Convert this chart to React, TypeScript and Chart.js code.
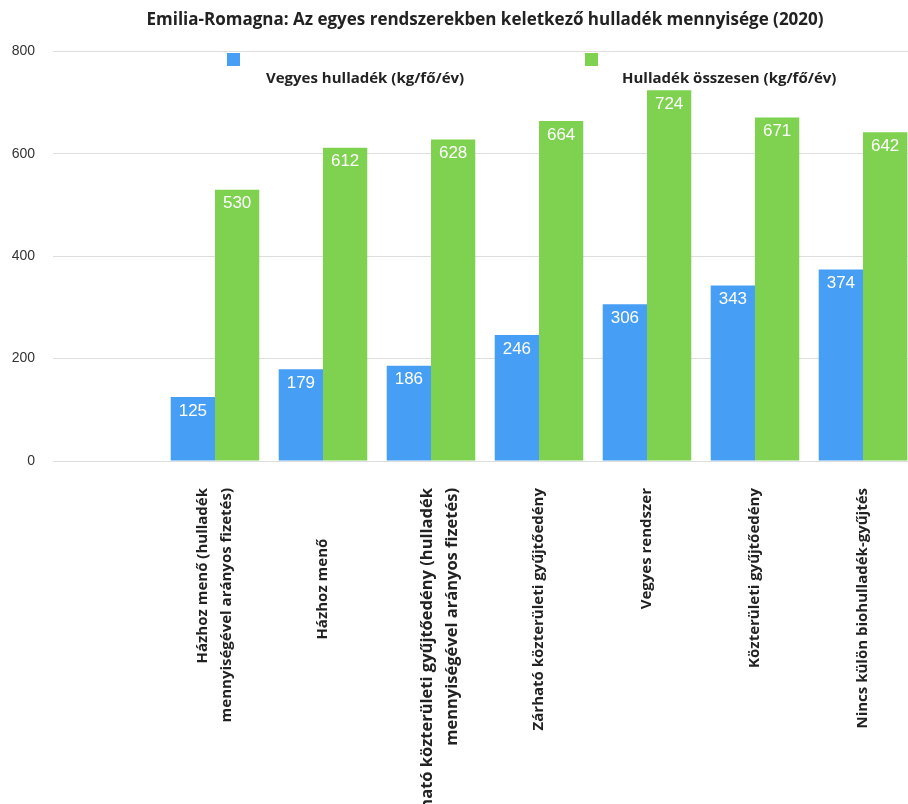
import React, { useEffect, useRef } from "react";
import { Chart, registerables } from "chart.js";

Chart.register(...registerables);

const chartTitle =
  "Emilia-Romagna: Az egyes rendszerekben keletkező hulladék mennyisége (2020)";

const categories: (string | string[])[] = [
  "",
  ["Házhoz menő (hulladék", "mennyiségével arányos fizetés)"],
  "Házhoz menő             ",
  ["Zárható közterületi gyűjtőedény (hulladék", "mennyiségével arányos fizetés)"],
  "Zárható közterületi gyűjtőedény",
  "Vegyes rendszer",
  "Közterületi gyűjtőedény",
  "Nincs külön biohulladék-gyűjtés",
];

const seriesLabels = ["Vegyes hulladék (kg/fő/év)", "Hulladék összesen (kg/fő/év)"];
const mixedWaste = [null, 125, 179, 186, 246, 306, 343, 374];
const totalWaste = [null, 530, 612, 628, 664, 724, 671, 642];
const yTickValues = [0, 200, 400, 600, 800];

const BLUE = "#479ef5";
const GREEN = "#7ed24f";

const valueLabelPlugin = {
  id: "valueLabels",
  afterDatasetsDraw(chart: any) {
    const ctx = chart.ctx;
    ctx.save();
    ctx.fillStyle = "#ffffff";
    ctx.font = "17px 'Liberation Sans', Arial, sans-serif";
    ctx.textAlign = "center";
    ctx.textBaseline = "middle";
    chart.data.datasets.forEach((ds: any, di: number) => {
      const meta = chart.getDatasetMeta(di);
      meta.data.forEach((bar: any, idx: number) => {
        const v = ds.data[idx];
        if (v == null) return;
        ctx.fillText(String(v), bar.x, bar.y + 14);
      });
    });
    ctx.restore();
  },
};

const legendPlugin = {
  id: "customLegend",
  afterDraw(chart: any, _args: any, opts: any) {
    const ctx = chart.ctx;
    const items = opts.items || [];
    ctx.save();
    chart.data.datasets.forEach((ds: any, i: number) => {
      const it = items[i];
      if (!it) return;
      ctx.fillStyle = ds.backgroundColor;
      ctx.fillRect(it.boxX, it.boxY, 13, 13);
      ctx.fillStyle = "#222222";
      ctx.font = "bold 15px 'Open Sans', sans-serif";
      ctx.textAlign = "left";
      ctx.textBaseline = "middle";
      ctx.fillText(ds.label, it.textX, it.textY);
    });
    ctx.restore();
  },
};

// nudges multi-line rotated tick labels sideways
const labelNudgePlugin = {
  id: "labelNudge",
  beforeDraw(chart: any, _args: any, opts: any) {
    const scale = chart.scales.x;
    if (!scale || !scale.getLabelItems) return;
    const items = scale.getLabelItems();
    const shifts = opts.shifts || {};
    items.forEach((item: any, i: number) => {
      if (item.__nudged) return;
      const s = shifts[i];
      if (s && item.options && item.options.translation) {
        item.options.translation[0] += s;
      }
      item.__nudged = true;
    });
  },
};

export default function App() {
  const canvasRef = useRef<HTMLCanvasElement | null>(null);

  useEffect(() => {
    if (!canvasRef.current) return;
    const chart = new Chart(canvasRef.current, {
      type: "bar",
      data: {
        labels: categories,
        datasets: [
          {
            label: seriesLabels[0],
            data: mixedWaste,
            backgroundColor: BLUE,
            barPercentage: 1,
            categoryPercentage: 0.82,
          },
          {
            label: seriesLabels[1],
            data: totalWaste,
            backgroundColor: GREEN,
            barPercentage: 1,
            categoryPercentage: 0.82,
          },
        ],
      },
      options: {
        animation: false,
        responsive: false,
        devicePixelRatio: 1,
        layout: { padding: 0 },
        plugins: {
          legend: { display: false },
          tooltip: { enabled: false },
          title: {
            display: true,
            text: chartTitle,
            fullSize: false,
            color: "#222222",
            font: { family: "'Open Sans', sans-serif", size: 17, weight: "bold" },
            padding: { top: 10, bottom: 21 },
          },
          customLegend: {
            items: [
              { boxX: 227, boxY: 53, textX: 266, textY: 79 },
              { boxX: 585, boxY: 53, textX: 622, textY: 79 },
            ],
          },
          labelNudge: {
            shifts: { 1: -12, 3: -4 },
          },
        } as any,
        scales: {
          x: {
            grid: { display: false, drawTicks: false },
            border: { display: false },
            afterFit: (scale: any) => {
              scale.height = 343;
            },
            ticks: {
              autoSkip: false,
              maxRotation: 90,
              minRotation: 90,
              padding: 27,
              color: "#222222",
              font: (c: any) =>
                c.index === 3
                  ? { family: "'Open Sans', sans-serif", size: 16.5, weight: "bold", lineHeight: 1.55 }
                  : { family: "'Open Sans', sans-serif", size: 15, weight: "bold", lineHeight: 1.6 },
            },
          },
          y: {
            min: 0,
            max: 800,
            grid: { color: "#dddddd", lineWidth: 1, drawTicks: false },
            border: { display: false },
            afterFit: (scale: any) => {
              scale.width = 53;
            },
            afterBuildTicks: (scale: any) => {
              scale.ticks = yTickValues.map((v) => ({ value: v }));
            },
            ticks: {
              padding: 18,
              color: "#333333",
              font: { family: "'Liberation Sans', Arial, sans-serif", size: 14 },
            },
          },
        },
      },
      plugins: [valueLabelPlugin, legendPlugin, labelNudgePlugin],
    });
    return () => chart.destroy();
  }, []);

  return (
    <div
      style={{
        position: "absolute",
        left: 0,
        top: 0,
        width: 908,
        height: 804,
        overflow: "hidden",
        background: "#ffffff",
      }}
    >
      <canvas ref={canvasRef} width={917} height={804} style={{ display: "block" }} />
    </div>
  );
}
